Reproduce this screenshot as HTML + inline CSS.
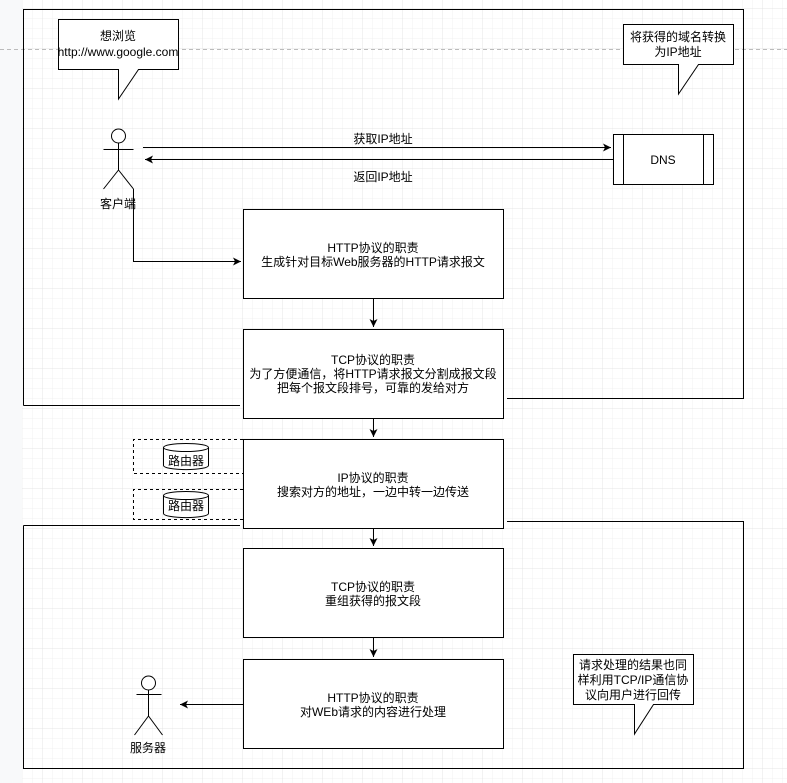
<!DOCTYPE html>
<html><head><meta charset="utf-8"><style>
html,body{margin:0;padding:0;background:#fff}
svg{display:block}
text{font-family:"Liberation Sans","Noto Sans CJK SC",sans-serif;font-size:12px;fill:#000}
</style></head><body>
<svg width="787" height="783" viewBox="0 0 787 783" xmlns="http://www.w3.org/2000/svg">
<defs>
<pattern id="g" width="10" height="10" patternUnits="userSpaceOnUse"><path d="M10 0V10H0" fill="none" stroke="#f0f0f0" stroke-width="1"/></pattern>
<pattern id="G" width="40" height="40" patternUnits="userSpaceOnUse" x="3" y="9"><rect width="40" height="40" fill="url(#g)"/><path d="M40 0V40H0" fill="none" stroke="#e4e4e4" stroke-width="1"/></pattern>
<marker id="a" markerWidth="10" markerHeight="10" refX="8" refY="4" orient="auto" markerUnits="userSpaceOnUse"><path d="M0,0 L8,4 L0,8 L2,4z" fill="#000"/></marker>
</defs>
<rect width="787" height="783" fill="url(#G)"/>
<rect x="0" y="0" width="22" height="783" fill="#f8f9fa"/>
<line x1="0" y1="49.5" x2="787" y2="49.5" stroke="#bbb" stroke-dasharray="4,3"/>
<g fill="none" stroke="#000" stroke-width="1">
<path d="M23.5 405.5V9.5H743.5V398.5H507"/>
<path d="M23.5 405.5H240"/>
<path d="M23.5 525.5H240"/>
<path d="M23.5 525.5V768.5H743.5V521.5H507"/>
</g>
<!-- callout 1 -->
<path d="M58.5 19.5H178.5V69.5H138.5L118.5 99L118.5 69.5H58.5Z" fill="#fff" stroke="#000"/>
<text x="118" y="40" text-anchor="middle">想浏览</text>
<text x="118" y="56" text-anchor="middle">http://www.google.com</text>
<!-- callout 2 -->
<path d="M623.5 24.5H733.5V64.5H698.5L678.5 94L678.5 64.5H623.5Z" fill="#fff" stroke="#000"/>
<text x="678" y="41" text-anchor="middle">将获得的域名转换</text>
<text x="678" y="56" text-anchor="middle">为IP地址</text>
<!-- client actor -->
<g fill="none" stroke="#000">
<circle cx="118.5" cy="136" r="7" fill="#fff"/>
<path d="M118.5 143V170M103.5 149.5H133.5M118.5 170L103.5 189M118.5 170L133.5 189"/>
</g>
<text x="118" y="208" text-anchor="middle">客户端</text>
<path d="M133.5 189V261.5H241" fill="none" stroke="#000" marker-end="url(#a)"/>
<!-- dns arrows -->
<line x1="143" y1="147.5" x2="611" y2="147.5" stroke="#000" marker-end="url(#a)"/>
<line x1="613" y1="159.5" x2="145" y2="159.5" stroke="#000" marker-end="url(#a)"/>
<text x="383" y="143" text-anchor="middle">获取IP地址</text>
<text x="383" y="181" text-anchor="middle">返回IP地址</text>
<rect x="613.5" y="134.5" width="100" height="50" fill="#fff" stroke="#000"/>
<path d="M623.5 134.5V184.5M703.5 134.5V184.5" stroke="#000"/>
<text x="663" y="164" text-anchor="middle">DNS</text>
<!-- routers -->
<g fill="none" stroke="#000" stroke-dasharray="3,3">
<path d="M243 439.5H133.5V473.5H243"/>
<path d="M243 489.5H133.5V519.5H243"/>
</g>
<g fill="#fff" stroke="#000">
<path d="M163.5 447.5V465.5A22 4 0 0 0 208.5 465.5V447.5"/><ellipse cx="186" cy="447.5" rx="22.5" ry="4"/>
<path d="M163.5 495.5V513.5A22 4 0 0 0 208.5 513.5V495.5"/><ellipse cx="186" cy="495.5" rx="22.5" ry="4"/>
</g>
<text x="186" y="465" text-anchor="middle">路由器</text>
<text x="186" y="510" text-anchor="middle">路由器</text>
<!-- boxes -->
<g fill="#fff" stroke="#000">
<rect x="243.5" y="209.5" width="260" height="89"/>
<rect x="243.5" y="329.5" width="260" height="89"/>
<rect x="243.5" y="439.5" width="260" height="89"/>
<rect x="243.5" y="548.5" width="260" height="89"/>
<rect x="243.5" y="659.5" width="260" height="89"/>
</g>
<g stroke="#000">
<line x1="373.5" y1="299" x2="373.5" y2="327" marker-end="url(#a)"/>
<line x1="373.5" y1="419" x2="373.5" y2="437" marker-end="url(#a)"/>
<line x1="373.5" y1="529" x2="373.5" y2="546" marker-end="url(#a)"/>
<line x1="373.5" y1="638" x2="373.5" y2="657" marker-end="url(#a)"/>
<line x1="243" y1="704.5" x2="180" y2="704.5" marker-end="url(#a)"/>
</g>
<g text-anchor="middle">
<text x="373" y="252">HTTP协议的职责</text>
<text x="373" y="266">生成针对目标Web服务器的HTTP请求报文</text>
<text x="373" y="364">TCP协议的职责</text>
<text x="373" y="378">为了方便通信，将HTTP请求报文分割成报文段</text>
<text x="373" y="392">把每个报文段排号，可靠的发给对方</text>
<text x="373" y="482">IP协议的职责</text>
<text x="373" y="496">搜索对方的地址，一边中转一边传送</text>
<text x="373" y="591">TCP协议的职责</text>
<text x="373" y="605">重组获得的报文段</text>
<text x="373" y="702">HTTP协议的职责</text>
<text x="373" y="716">对WEb请求的内容进行处理</text>
</g>
<!-- server actor -->
<g fill="none" stroke="#000">
<circle cx="148.5" cy="683" r="7" fill="#fff"/>
<path d="M148.5 690V716M136.5 694.5H161.5M148.5 716L134.5 735M148.5 716L162.5 735"/>
</g>
<text x="148" y="752" text-anchor="middle">服务器</text>
<!-- callout 3 -->
<path d="M573.5 654.5H693.5V704.5H653.5L634.5 734L634.5 704.5H573.5Z" fill="#fff" stroke="#000"/>
<g text-anchor="middle">
<text x="633" y="669">请求处理的结果也同</text>
<text x="633" y="684">样利用TCP/IP通信协</text>
<text x="633" y="699">议向用户进行回传</text>
</g>
</svg>
</body></html>
